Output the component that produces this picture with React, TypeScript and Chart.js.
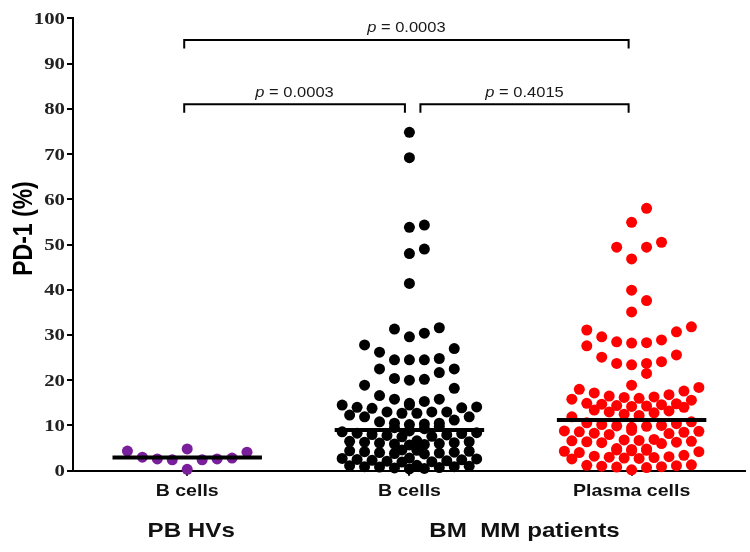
import React, { useEffect, useRef } from "react";
import { Chart, registerables } from "chart.js";

Chart.register(...registerables);

// ---------- data ----------
const categories = ["B cells", "B cells", "Plasma cells"];
const groupLabels = ["PB HVs", "BM  MM patients"];
const groupFirst = [0, 1];
const groupLast = [0, 2];
const yTicks = [0, 10, 20, 30, 40, 50, 60, 70, 80, 90, 100];

const pbHvBCells = [4.35, 3.0, 2.6, 2.4, 4.8, 0.3, 2.4, 2.6, 2.8, 4.1];

const bmBCells = [
  74.8, 69.2, 54.3, 53.8, 49.0, 48.0, 41.4,
  31.6, 31.3, 30.4, 29.6, 27.8, 27.0, 26.2, 24.8, 24.5, 24.5, 24.5, 22.5, 22.5, 21.7,
  20.4, 20.2, 20.0, 18.9, 18.2, 16.6, 15.8, 15.8,
  15.3, 14.9, 14.5, 14.5, 14.1, 14.0, 13.9, 13.8, 13.0, 13.0, 13.0,
  12.7, 12.7, 12.3, 11.9, 11.9, 11.2,
  10.8, 10.5, 10.5, 10.3, 10.2, 9.8, 9.5, 9.3,
  8.6, 8.2, 7.9, 8.4, 7.6, 8.0, 8.8, 7.8, 8.3, 7.5,
  6.5, 6.0, 6.3, 5.8, 6.1, 6.6, 5.7, 6.2, 5.9, 6.4,
  4.5, 4.0, 4.2, 3.8, 4.4, 3.9, 4.1, 4.6, 3.7, 4.3,
  2.6, 2.2, 2.5, 2.0, 2.8, 2.3, 1.9, 2.7, 2.1, 2.4,
  1.0, 0.6, 0.9, 0.5, 1.2, 0.7, 0.8, 1.1, 0.4, 0.9,
];

const bmPlasmaCells = [
  58.0, 54.9, 50.5, 49.4, 49.4, 46.8, 39.9, 37.6, 35.1, 31.8, 30.7, 31.1,
  28.9, 28.3, 27.6, 28.2, 28.5, 29.6, 25.6, 24.1, 23.7, 21.5, 23.4, 23.7, 25.1,
  18.9, 18.4, 18.0, 17.6, 17.2,
  16.3, 16.0, 15.8, 16.5, 15.6, 16.2, 16.8,
  14.8, 14.3, 14.6, 14.0, 14.9, 14.4, 14.2, 14.7,
  13.2, 12.8, 13.0, 12.5, 13.4, 12.2, 11.9,
  10.6, 10.2, 9.9, 10.4, 9.6, 10.0, 10.8, 9.8,
  8.9, 8.5, 8.2, 8.7, 8.0, 8.6, 8.3, 8.8,
  6.9, 6.5, 6.2, 6.7, 6.0, 6.4, 6.8, 6.3, 6.6,
  4.9, 4.5, 4.2, 4.7, 4.0, 4.4, 4.8, 4.3, 4.6,
  3.2, 2.8, 3.0, 2.6, 3.4, 2.9, 3.1, 2.7,
  1.3, 0.9, 1.1, 0.7, 1.2, 0.8, 0.2, 1.0,
];

const medians = [2.9, 9.0, 11.2];
const seriesColors = ["#7a1f9b", "#000000", "#ff0000"];

const compareFrom = [0, 0, 1];
const compareTo = [2, 1, 2];
const compareLevel = [95.2, 81.0, 81.0];
const compareP = ["0.0003", "0.0003", "0.4015"];

// ---------- layout ----------
const W = 750;
const H = 552;
const LEFT = 73;
const RIGHT = 747;
const TOP = 18.3;
const BOTTOM = 470.7;
const X_MIN = -0.514;
const X_MAX = 2.508;
const PX_X = (RIGHT - LEFT) / (X_MAX - X_MIN);
const DOT_R = 5.5;
const SLOT = 15; // horizontal slot width (px)
const BAND = 4.5; // value band grouped into one row
const MEDIAN_HALF = 75 / PX_X;
const INT_SLOTS = [0, 1, -1, 2, -2, 3, -3, 4, -4];
const HALF_SLOTS = [0.5, -0.5, 1.5, -1.5, 2.5, -2.5, 3.5, -3.5, 4.5, -4.5];

// Prism-style scatter layout: values grouped in bands, spread in rows from the centre out
function swarmOffsets(values: number[]): number[] {
  const order = values.map((_, i) => i).sort((a, b) => values[a] - values[b]);
  const out = new Array(values.length).fill(0);
  let g = 0;
  while (g < order.length) {
    const start = values[order[g]];
    let e = g;
    while (e < order.length && values[order[e]] < start + BAND) e++;
    const group = order.slice(g, e);
    let pos = 0;
    let sub = 0;
    while (pos < group.length) {
      const slots = sub % 2 === 1 ? HALF_SLOTS : INT_SLOTS;
      const part = group.slice(pos, pos + slots.length);
      part.forEach((i, k) => {
        out[i] = (slots[k] * SLOT) / PX_X;
      });
      pos += slots.length;
      sub++;
    }
    g = e;
  }
  return out;
}

function drawText(
  ctx: CanvasRenderingContext2D,
  text: string,
  x: number,
  y: number,
  font: string,
  sx: number,
  align: CanvasTextAlign,
  color: string
) {
  ctx.save();
  ctx.translate(x, y);
  ctx.scale(sx, 1);
  ctx.font = font;
  ctx.textAlign = align;
  ctx.textBaseline = "alphabetic";
  ctx.fillStyle = color;
  ctx.fillText(text, 0, 0);
  ctx.restore();
}

const annotationPlugin = {
  id: "annotationPlugin",
  afterDraw(chart: any) {
    const ctx: CanvasRenderingContext2D = chart.ctx;
    const xs = chart.scales.x;
    const ys = chart.scales.y;

    yTicks.forEach((v) => {
      drawText(ctx, String(v), 65, ys.getPixelForValue(v) + 5.5, 'bold 16px "Liberation Serif"', 1.3, "right", "#222");
    });

    ctx.save();
    ctx.translate(32, 228.5);
    ctx.scale(1.18, 1);
    ctx.rotate(-Math.PI / 2);
    ctx.font = 'bold 23px "Liberation Sans"';
    ctx.textAlign = "center";
    ctx.textBaseline = "alphabetic";
    ctx.fillStyle = "#000";
    ctx.fillText("PD-1 (%)", 0, 0);
    ctx.restore();

    categories.forEach((c, i) => {
      drawText(ctx, c, xs.getPixelForValue(i), 496, 'bold 17px "Liberation Sans"', 1.15, "center", "#111");
    });

    groupLabels.forEach((g, i) => {
      const cx = (xs.getPixelForValue(groupFirst[i]) + xs.getPixelForValue(groupLast[i])) / 2;
      drawText(ctx, g, cx + 4, 537, 'bold 21px "Liberation Sans"', 1.15, "center", "#111");
    });

    compareFrom.forEach((f, i) => {
      const t = compareTo[i];
      let x1 = xs.getPixelForValue(f) - 3;
      let x2 = xs.getPixelForValue(t) - 3;
      if (f === 1) x1 = xs.getPixelForValue(f) + 11;
      if (t === 1) x2 = xs.getPixelForValue(t) - 4.5;
      const yl = ys.getPixelForValue(compareLevel[i]);
      ctx.save();
      ctx.strokeStyle = "#000";
      ctx.lineWidth = 2;
      ctx.beginPath();
      ctx.moveTo(x1, yl + 8.5);
      ctx.lineTo(x1, yl);
      ctx.lineTo(x2, yl);
      ctx.lineTo(x2, yl + 8.5);
      ctx.stroke();
      ctx.restore();

      const sx = 1.1;
      const fontI = 'italic 15px "Liberation Sans"';
      const fontN = '15px "Liberation Sans"';
      const rest = " = " + compareP[i];
      ctx.save();
      ctx.font = fontI;
      const wp = ctx.measureText("p").width;
      ctx.font = fontN;
      const wr = ctx.measureText(rest).width;
      ctx.restore();
      const total = (wp + wr) * sx;
      const start = (x1 + x2) / 2 - total / 2;
      drawText(ctx, "p", start, yl - 7.7, fontI, sx, "left", "#1a1a1a");
      drawText(ctx, rest, start + wp * sx, yl - 7.7, fontN, sx, "left", "#1a1a1a");
    });
  },
};

export default function App() {
  const canvasRef = useRef<HTMLCanvasElement | null>(null);

  useEffect(() => {
    const canvas = canvasRef.current;
    if (!canvas) return;
    const series = [pbHvBCells, bmBCells, bmPlasmaCells];

    const pointSets = series.map((vals, ci) => {
      const offs = swarmOffsets(vals);
      return {
        type: "scatter" as const,
        data: vals.map((v, j) => ({ x: ci + offs[j], y: v })),
        backgroundColor: seriesColors[ci],
        borderWidth: 0,
        pointRadius: DOT_R,
        pointHoverRadius: DOT_R,
        clip: false as any,
        order: 2,
      };
    });

    const medianSets = medians.map((m, ci) => ({
      type: "line" as const,
      data: [
        { x: ci - MEDIAN_HALF, y: m },
        { x: ci + MEDIAN_HALF, y: m },
      ],
      borderColor: "#000",
      borderWidth: 4,
      borderCapStyle: "butt" as const,
      pointRadius: 0,
      showLine: true,
      clip: false as any,
      order: 1,
    }));

    const chart = new Chart(canvas, {
      type: "scatter",
      data: { datasets: [...medianSets, ...pointSets] as any },
      options: {
        animation: false,
        responsive: false,
        devicePixelRatio: 1,
        layout: { padding: { left: 0, top: TOP, right: W - RIGHT, bottom: 0 } },
        plugins: { legend: { display: false }, tooltip: { enabled: false } },
        scales: {
          x: {
            type: "linear",
            min: X_MIN,
            max: X_MAX,
            afterBuildTicks: (s: any) => {
              s.ticks = categories.map((_, i) => ({ value: i }));
            },
            afterFit: (s: any) => {
              s.height = H - BOTTOM;
            },
            ticks: { display: false },
            grid: {
              display: true,
              drawOnChartArea: false,
              drawTicks: true,
              tickLength: 5,
              color: "#000",
              lineWidth: 2,
            },
            border: { display: true, color: "#000", width: 2 },
          },
          y: {
            type: "linear",
            min: 0,
            max: 100,
            afterBuildTicks: (s: any) => {
              s.ticks = yTicks.map((v) => ({ value: v }));
            },
            afterFit: (s: any) => {
              s.width = LEFT;
            },
            ticks: { display: false },
            grid: {
              display: true,
              drawOnChartArea: false,
              drawTicks: true,
              tickLength: 6,
              color: "#000",
              lineWidth: 2,
            },
            border: { display: true, color: "#000", width: 2 },
          },
        },
      },
      plugins: [annotationPlugin],
    });

    return () => chart.destroy();
  }, []);

  return (
    <div style={{ position: "absolute", left: 0, top: 0, width: W, height: H, background: "#fff" }}>
      <canvas ref={canvasRef} width={W} height={H} style={{ display: "block" }} />
    </div>
  );
}
